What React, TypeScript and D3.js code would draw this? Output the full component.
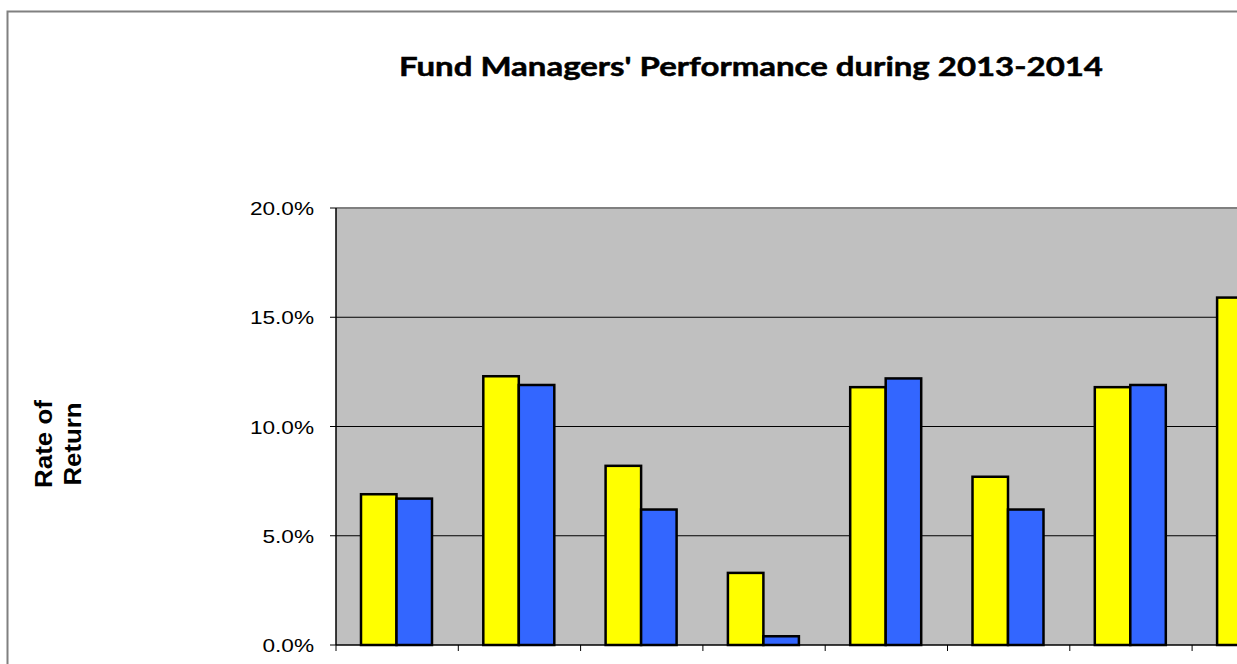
import { useEffect } from 'react'
import * as d3 from 'd3'

// fund managers (labels sit below the visible area in the source image)
const managers = ['Fund A', 'Fund B', 'Fund C', 'Fund D', 'Fund E', 'Fund F', 'Fund G', 'Fund H']
// rate of return, % (yellow series, blue series)
const return2013 = [6.9, 12.3, 8.2, 3.3, 11.8, 7.7, 11.8, 15.9]
const return2014 = [6.7, 11.9, 6.2, 0.4, 12.2, 6.2, 11.9, 12.0]
const yTicks = [0, 5, 10, 15, 20]

const W = 1237
const H = 664

export default function App() {
  useEffect(() => {
    document.body.style.margin = '0'
  }, [])

  const left = 336
  const top = 208
  const bottom = 645
  const bandW = 122.3
  const right = left + bandW * managers.length

  const x = d3.scaleBand().domain(managers).range([left, right])
  const y = d3.scaleLinear().domain([0, 20]).range([bottom, top])
  const barW = 35.5
  const inset = 25

  const series = [
    { values: return2013, fill: '#FFFF00', offset: 0 },
    { values: return2014, fill: '#3366FF', offset: 1 },
  ]

  const arial = "Arial, 'Liberation Sans', sans-serif"

  return (
    <svg width={W} height={H} style={{ display: 'block' }}>
      <rect x={0} y={0} width={W} height={H} fill="#fff" />
      {/* chart area border */}
      <rect x={7.5} y={11.5} width={W + 20} height={H + 20} fill="none" stroke="#808080" strokeWidth={2} />

      <text x={751} y={76} textAnchor="middle" fontFamily="Lato, 'Open Sans', sans-serif"
        fontWeight="bold" fontSize={26.5} fill="#000" stroke="#000" strokeWidth={0.5}
        textLength={704} lengthAdjust="spacingAndGlyphs">
        Fund Managers' Performance during 2013-2014
      </text>

      {/* plot area */}
      <rect x={left} y={top} width={right - left} height={bottom - top} fill="#C0C0C0" />
      <line x1={left} x2={right} y1={top} y2={top} stroke="#808080" strokeWidth={2} />

      {yTicks.filter(t => t > 0 && t < 20).map(t => (
        <line key={t} x1={left} x2={right} y1={y(t)} y2={y(t)} stroke="#000" strokeWidth={1} />
      ))}

      {series.map((s, si) =>
        managers.map((m, i) => {
          const bx = (x(m) as number) + inset + s.offset * barW
          return (
            <rect key={`${si}-${i}`} x={bx} y={y(s.values[i])} width={barW}
              height={bottom - y(s.values[i])} fill={s.fill} stroke="#000" strokeWidth={2.5} />
          )
        })
      )}

      {/* y axis */}
      <line x1={left} x2={left} y1={top} y2={bottom} stroke="#000" strokeWidth={1.5} />
      {yTicks.map(t => (
        <g key={t}>
          <line x1={left - 6} x2={left} y1={y(t)} y2={y(t)} stroke="#000" />
          <text transform={`translate(314,${y(t) + 7}) scale(1.19,1)`} textAnchor="end"
            fontFamily={arial} fontSize={19} fill="#000">
            {d3.format('.1f')(t)}%
          </text>
        </g>
      ))}

      {/* x axis */}
      <line x1={left} x2={right} y1={bottom} y2={bottom} stroke="#000" strokeWidth={1.5} />
      {managers.map(m => (
        <line key={m} x1={x(m) as number} x2={x(m) as number} y1={bottom} y2={bottom + 6} stroke="#000" />
      ))}

      <text transform="translate(0,444) rotate(-90)" textAnchor="middle"
        fontFamily={arial} fontWeight="bold" fontSize={24} fill="#000">
        <tspan x={0} y={52} textLength={88} lengthAdjust="spacingAndGlyphs">Rate of</tspan>
        <tspan x={0} y={81} textLength={83} lengthAdjust="spacingAndGlyphs">Return</tspan>
      </text>
    </svg>
  )
}
